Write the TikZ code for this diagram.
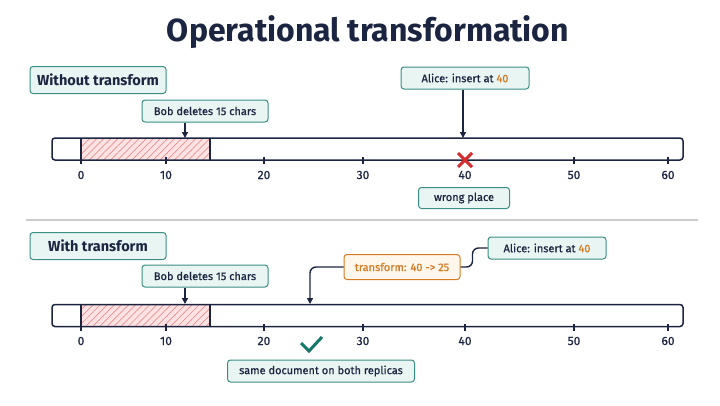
\documentclass[tikz,border=0pt]{standalone}
\usepackage{fontspec}
\setmainfont{Fira Sans}
\newfontfamily\medfont{Fira Sans}[FakeBold=0.7]
\usepackage{xcolor}
\usetikzlibrary{arrows.meta,patterns.meta}
\definecolor{ink}{HTML}{1B2440}
\definecolor{boxline}{HTML}{3A8F84}
\definecolor{mint}{HTML}{E8F5F2}
\definecolor{orng}{HTML}{D47A22}
\definecolor{cream}{HTML}{FFF7EC}
\definecolor{delred}{HTML}{FDE3E3}
\definecolor{hatch}{HTML}{EE8C8C}
\definecolor{xred}{HTML}{D62C2C}
\definecolor{okgreen}{HTML}{17786A}

\begin{document}
\begin{tikzpicture}[x=1pt,y=-1pt,
  lbl/.style={draw=boxline,fill=mint,rounded corners=3pt,line width=1pt,text=ink,
    font=\medfont\fontsize{11}{13}\selectfont,inner sep=0pt,minimum height=22pt},
  head/.style={lbl,font=\bfseries\fontsize{14.5}{16}\selectfont,minimum height=27pt,minimum width=136pt},
  xfbox/.style={lbl,draw=orng,fill=cream,text=orng,minimum height=25pt},
  bar/.style={draw=ink,line width=1.5pt,rounded corners=3pt,minimum width=631pt,minimum height=22pt,inner sep=0pt},
  num/.style={text=ink,font=\medfont\fontsize{12}{13}\selectfont,inner sep=0pt},
  arr/.style={-{Triangle[length=6pt,width=6pt]},line width=1.4pt,draw=ink},
  conn/.style={line width=1.4pt,draw=ink},
  tickmark/.style={line width=1.3pt,draw=ink},
  deleted/.style={fill=delred,postaction={pattern={Lines[angle=45,distance=5pt,line width=0.7pt]},pattern color=hatch}}]
\useasboundingbox (0,0) rectangle (720,405);

\node[text=ink,font=\bfseries\fontsize{32}{36}\selectfont] (title) at (368,32) {Operational transformation};

% without transform
\node[head] (hd1) at (98,80) {Without transform};
\path[deleted] (81,138.75) rectangle (210,159.25);
\node[bar] (bar1) at (367.5,149) {};
\draw[line width=1.3pt,ink] (81,138) -- (81,164) (210,138) -- (210,160);
\foreach \v/\x in {10/166,20/264,30/363,50/574,60/668}
  \draw[tickmark] (\x,157) -- (\x,164);
\foreach \v/\x in {0/81,10/166,20/264,30/363,40/465,50/574,60/668}
  \node[num] (n1-\v) at (\x,175) {\v};
\node[lbl,minimum width=126pt] (bob1) at (205,111) {Bob deletes 15 chars};
\node[lbl,minimum width=128pt] (al1) at (465,78) {Alice: insert at \textcolor{orng}{40}};
\coordinate (p12a) at (185,138);
\coordinate (p40a) at (463,138);
\draw[arr] (bob1.south -| p12a) -- (p12a);
\draw[arr] (al1.south -| p40a) -- (p40a);
\draw[xred,line width=3pt] (458,153) -- (472,167) (458,167) -- (472,153);
\node[lbl,minimum width=91pt,minimum height=21pt] (wrong) at (464,198) {wrong place};

\draw[gray!40,line width=1.2pt] (26,220) -- (698,220);

% with transform
\node[head] (hd2) at (98,246) {With transform};
\path[deleted] (81,304.75) rectangle (210,326.25);
\node[bar] (bar2) at (367.5,315.5) {};
\draw[line width=1.3pt,ink] (81,304) -- (81,331) (210,304) -- (210,327);
\foreach \v/\x in {10/166,20/264,30/363,40/465,50/574,60/668}
  \draw[tickmark] (\x,324) -- (\x,331);
\foreach \v/\x in {0/81,10/166,20/264,30/363,40/465,50/574,60/668}
  \node[num] (n2-\v) at (\x,341) {\v};
\node[lbl,minimum width=126pt] (bob2) at (205,276) {Bob deletes 15 chars};
\node[lbl,minimum width=118pt] (al2) at (547,248) {Alice: insert at \textcolor{orng}{40}};
\node[xfbox,minimum width=116pt] (xf) at (402,267) {transform: 40 -> 25};
\coordinate (p12b) at (185,304);
\coordinate (p25) at (310,304);
\draw[arr] (bob2.south -| p12b) -- (p12b);
\draw[conn,rounded corners=6pt] (al2.west) -- ++(-15,0) |- (xf.east);
\draw[arr,rounded corners=6pt] (xf.west) -| (p25);
\draw[okgreen,line width=3pt] (301,343) -- (309,351) -- (322,337);
\node[lbl,minimum width=187pt] (same) at (321,371) {same document on both replicas};
\end{tikzpicture}
\end{document}
